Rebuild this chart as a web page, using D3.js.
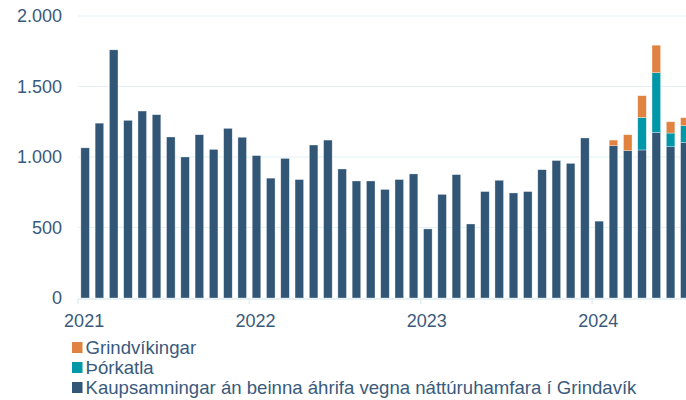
<!DOCTYPE html>
<html><head><meta charset="utf-8">
<script src="https://cdn.jsdelivr.net/npm/d3@7"></script>
<style>
html,body{margin:0;padding:0;background:#fff;}
svg{display:block;font-family:"Liberation Sans",Arial,sans-serif;}
</style></head>
<body><svg id="c" width="686" height="400"></svg>
<script>
const months = ["2021-01","2021-02","2021-03","2021-04","2021-05","2021-06","2021-07","2021-08","2021-09","2021-10","2021-11","2021-12",
"2022-01","2022-02","2022-03","2022-04","2022-05","2022-06","2022-07","2022-08","2022-09","2022-10","2022-11","2022-12",
"2023-01","2023-02","2023-03","2023-04","2023-05","2023-06","2023-07","2023-08","2023-09","2023-10","2023-11","2023-12",
"2024-01","2024-02","2024-03","2024-04","2024-05","2024-06","2024-07"];
const kaupsamningar = [1065,1240,1760,1260,1326,1300,1142,1000,1158,1054,1203,1140,
1010,850,990,840,1085,1120,915,830,830,770,840,880,
490,735,875,525,755,835,745,755,910,975,955,1135,
545,1080,1045,1050,1173,1073,1104];
const thorkatla = [0,0,0,0,0,0,0,0,0,0,0,0, 0,0,0,0,0,0,0,0,0,0,0,0, 0,0,0,0,0,0,0,0,0,0,0,0, 0,0,0,230,425,97,118];
const grindvikingar = [0,0,0,0,0,0,0,0,0,0,0,0, 0,0,0,0,0,0,0,0,0,0,0,0, 0,0,0,0,0,0,0,0,0,0,0,0, 0,40,113,155,195,80,57];
const yTicks = [0,500,1000,1500,2000];
const yearLabels = ["2021","2022","2023","2024"];
const seriesNames = ["Kaupsamningar án beinna áhrifa vegna náttúruhamfara í Grindavík","Þórkatla","Grindvíkingar"];
const colors = ["#325676","#0097a9","#e08341"];

const svg = d3.select("#c");
const x = d3.scaleBand().domain(months).range([78,692]).paddingInner(0.4).paddingOuter(0.2);
const y = d3.scaleLinear().domain([0,2000]).range([298,16]);
const txt = "#3a5a7c";

// gridlines
svg.append("g").selectAll("line").data(yTicks.filter(d=>d>0)).join("line")
  .attr("x1",78).attr("x2",686).attr("y1",d=>y(d)).attr("y2",d=>y(d))
  .attr("stroke","#e4f1f4").attr("stroke-width",1.2);

// y labels
svg.append("g").selectAll("text").data(yTicks).join("text")
  .attr("x",62).attr("y",d=>y(d)).attr("dy","0.35em").attr("text-anchor","end")
  .attr("font-size",18).attr("fill",txt)
  .text(d=>d3.format(",")(d).replace(/,/g,"."));

// stacked bars
const table = months.map((m,i)=>({m, a:kaupsamningar[i], b:thorkatla[i], c:grindvikingar[i]}));
const stack = d3.stack().keys(["a","b","c"])(table);
svg.append("g").selectAll("g").data(stack).join("g")
  .attr("fill",(d,i)=>colors[i])
  .selectAll("rect").data(d=>d.filter(p=>p[1]-p[0]>0)).join("rect")
  .attr("x",d=>x(d.data.m)).attr("width",x.bandwidth())
  .attr("y",d=>y(d[1])).attr("height",d=>y(d[0])-y(d[1]))
  .attr("stroke","#ffffff").attr("stroke-opacity",0.55).attr("stroke-width",0.6);

// x axis line + ticks
const ax = svg.append("g");
ax.append("line").attr("x1",78).attr("x2",686).attr("y1",299).attr("y2",299).attr("stroke","#e0edf1").attr("stroke-width",1.5);
const yearStarts = yearLabels.map(yl=>yl+"-01");
ax.selectAll("line.t").data(yearStarts).join("line").attr("class","t")
  .attr("x1",d=>x(d)-x.step()*x.paddingInner()/2).attr("x2",d=>x(d)-x.step()*x.paddingInner()/2)
  .attr("y1",299).attr("y2",304).attr("stroke","#e0edf1").attr("stroke-width",1.5);
ax.selectAll("text").data(yearLabels).join("text")
  .attr("x",d=>x(d+"-01")+x.bandwidth()/2-1).attr("y",327).attr("text-anchor","middle")
  .attr("font-size",18).attr("fill",txt).text(d=>d);

// legend
const legOrder = [2,1,0];
const lg = svg.append("g");
legOrder.forEach((si,k)=>{
  const cy = 347.5 + k*20;
  lg.append("rect").attr("x",72).attr("y",cy-5.5).attr("width",10.5).attr("height",11).attr("fill",colors[si]);
  lg.append("text").attr("x",85.5).attr("y",cy+6.5).attr("font-size",18.6).attr("fill",txt).text(seriesNames[si]);
});
</script></body></html>
